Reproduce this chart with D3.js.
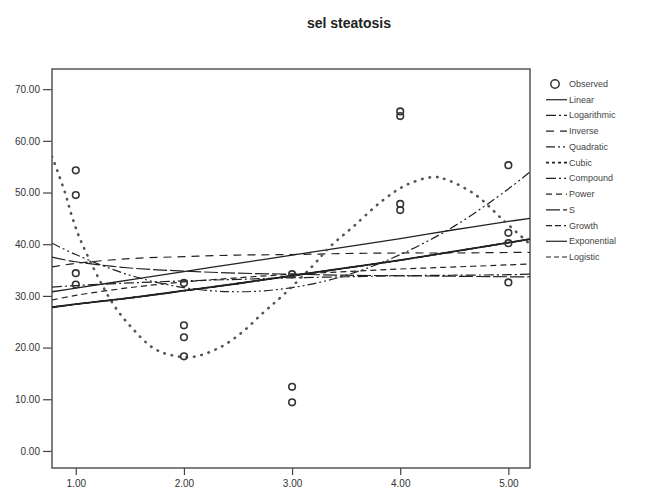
<!DOCTYPE html>
<html>
<head>
<meta charset="utf-8">
<script src="https://cdn.jsdelivr.net/npm/d3@7"></script>
<style>
  body { margin: 0; background: #fff; }
  svg { font-family: "Liberation Sans", Arial, sans-serif; }
  .axis text { font-size: 10px; fill: #333; }
  .axis line { stroke: #444; stroke-width: 1.2; }
  .legend text { font-size: 9px; fill: #444; }
</style>
</head>
<body>
<div id="chart"></div>
<script>
// observed values
const obsX = [1, 1, 1, 1, 2, 2, 2, 2, 3, 3, 3, 4, 4, 4, 4, 5, 5, 5, 5];
const obsY = [54.3, 49.5, 34.4, 32.2, 32.5, 24.3, 22.0, 18.3, 34.2, 12.4, 9.4, 65.7, 64.8, 47.8, 46.6, 55.3, 42.2, 40.2, 32.6];

// fitted curves
const fitX = [0.78, 1, 1.5, 2, 2.5, 3, 3.5, 4, 4.5, 5, 5.2];
const linearY      = [30.8, 31.5, 33.1, 34.7, 36.3, 37.9, 39.5, 41.1, 42.8, 44.4, 45.0];
const logarithmicY = [31.7, 32.0, 32.5, 32.9, 33.2, 33.5, 33.7, 33.9, 34.0, 34.1, 34.2];
const inverseY     = [35.6, 36.3, 37.2, 37.6, 37.9, 38.0, 38.2, 38.3, 38.3, 38.4, 38.4];
const quadraticY   = [40.2, 38.0, 34.0, 31.6, 30.8, 31.6, 34.0, 38.0, 43.5, 50.7, 54.0];
const compoundY    = [27.8, 28.4, 29.6, 31.0, 32.4, 33.9, 35.4, 36.9, 38.6, 40.3, 41.0];
const powerY       = [29.2, 30.1, 31.6, 32.7, 33.5, 34.2, 34.7, 35.2, 35.6, 36.0, 36.2];
const sY           = [37.5, 36.6, 35.4, 34.8, 34.4, 34.2, 34.0, 33.9, 33.8, 33.7, 33.7];
const cubicX = [0.78, 0.9, 0.97, 1.06, 1.34, 1.52, 1.71, 1.87, 2.08, 2.33, 2.54, 2.73, 2.92, 3.19, 3.35, 3.56, 3.84, 4.06, 4.31, 4.44, 4.7, 4.95, 5.2];
const cubicY = [57, 50, 45, 40, 28.6, 23.8, 20, 18.6, 18.2, 20, 23, 26.7, 30.2, 35.8, 39.5, 43.3, 48.5, 51.5, 53, 52.4, 49.5, 44.7, 40];

const xTicks = [1, 2, 3, 4, 5];
const yTicks = [0, 10, 20, 30, 40, 50, 60, 70];

const models = [
  { name: "Linear",      xs: fitX,   ys: linearY,      dash: null,              w: 1.3 },
  { name: "Logarithmic", xs: fitX,   ys: logarithmicY, dash: "10,3,2,3",        w: 1.2 },
  { name: "Inverse",     xs: fitX,   ys: inverseY,     dash: "8,6",             w: 1.2 },
  { name: "Quadratic",   xs: fitX,   ys: quadraticY,   dash: "9,3,2,3,2,3",     w: 1.2 },
  { name: "Cubic",       xs: cubicX, ys: cubicY,       dash: "0.5,7",           w: 2.6 },
  { name: "Compound",    xs: fitX,   ys: compoundY,    dash: "10,3,2,3,2,3",    w: 1.3 },
  { name: "Power",       xs: fitX,   ys: powerY,       dash: "6,4",             w: 1.2 },
  { name: "S",           xs: fitX,   ys: sY,           dash: "14,3",            w: 1.2 },
  { name: "Growth",      xs: fitX,   ys: compoundY,    dash: "6,3,6,3,2,3",     w: 1.3 },
  { name: "Exponential", xs: fitX,   ys: compoundY,    dash: null,              w: 1.8 },
  { name: "Logistic",    xs: fitX,   ys: compoundY,    dash: "5,3",             w: 1.3 }
];

const svgWidth = 665;
const svgHeight = 496;
const plot = { left: 52, right: 530, top: 69, bottom: 468 };

const svg = d3.select("#chart")
  .append("svg")
  .attr("width", svgWidth)
  .attr("height", svgHeight);

const x = d3.scaleLinear().domain([0.78, 5.2]).range([plot.left, plot.right]);
const y = d3.scaleLinear().domain([-3.3, 73.9]).range([plot.bottom, plot.top]);

// title
svg.append("text")
  .attr("x", 349)
  .attr("y", 28)
  .attr("text-anchor", "middle")
  .style("font-size", "14px")
  .style("font-weight", "bold")
  .style("fill", "#222")
  .text("sel steatosis");

svg.append("clipPath").attr("id", "clip")
  .append("rect")
  .attr("x", plot.left).attr("y", plot.top)
  .attr("width", plot.right - plot.left).attr("height", plot.bottom - plot.top);

// axes
const leftAxis = d3.axisLeft(y).tickValues(yTicks).tickFormat(d3.format(".2f")).tickSize(9).tickPadding(3);
const bottomAxis = d3.axisBottom(x).tickValues(xTicks).tickFormat(d3.format(".2f")).tickSize(7).tickPadding(5);

svg.append("g")
  .attr("class", "axis")
  .attr("transform", `translate(${plot.left},0)`)
  .call(leftAxis)
  .call(g => g.select(".domain").remove());

svg.append("g")
  .attr("class", "axis")
  .attr("transform", `translate(0,${plot.bottom})`)
  .call(bottomAxis)
  .call(g => g.select(".domain").remove());

// frame
svg.append("rect")
  .attr("x", plot.left).attr("y", plot.top)
  .attr("width", plot.right - plot.left).attr("height", plot.bottom - plot.top)
  .attr("fill", "none")
  .attr("stroke", "#555")
  .attr("stroke-width", 1.5);

// fit lines
const chartGroup = svg.append("g").attr("clip-path", "url(#clip)");

models.forEach(m => {
  const line = d3.line()
    .x(d => x(d[0]))
    .y(d => y(d[1]))
    .curve(d3.curveCatmullRom);
  chartGroup.append("path")
    .datum(d3.zip(m.xs, m.ys))
    .attr("fill", "none")
    .attr("stroke", m.name === "Cubic" ? "#555" : "#222")
    .attr("stroke-width", m.w)
    .attr("stroke-dasharray", m.dash)
    .attr("stroke-linecap", m.name === "Cubic" ? "round" : "butt")
    .attr("d", line);
});

// observed circles
chartGroup.selectAll("circle")
  .data(d3.zip(obsX, obsY))
  .enter()
  .append("circle")
  .attr("cx", d => x(d[0]))
  .attr("cy", d => y(d[1]))
  .attr("r", 3.3)
  .attr("fill", "none")
  .attr("stroke", "#333")
  .attr("stroke-width", 1.6);

// legend
const legend = svg.append("g").attr("class", "legend");
const legendY = d3.scaleLinear().domain([0, 11]).range([84, 257]);

legend.append("circle")
  .attr("cx", 555).attr("cy", legendY(0))
  .attr("r", 4.2)
  .attr("fill", "none").attr("stroke", "#333").attr("stroke-width", 1.5);
legend.append("text")
  .attr("x", 569).attr("y", legendY(0) + 3)
  .text("Observed");

models.forEach((m, i) => {
  const ly = legendY(i + 1);
  legend.append("line")
    .attr("x1", 546).attr("x2", 567)
    .attr("y1", ly).attr("y2", ly)
    .attr("stroke", "#222")
    .attr("stroke-width", m.name === "Cubic" ? 1.6 : 1.2)
    .attr("stroke-dasharray", m.name === "Cubic" ? "3,3" : m.dash);
  legend.append("text")
    .attr("x", 569).attr("y", ly + 3)
    .text(m.name);
});
</script>
</body>
</html>
